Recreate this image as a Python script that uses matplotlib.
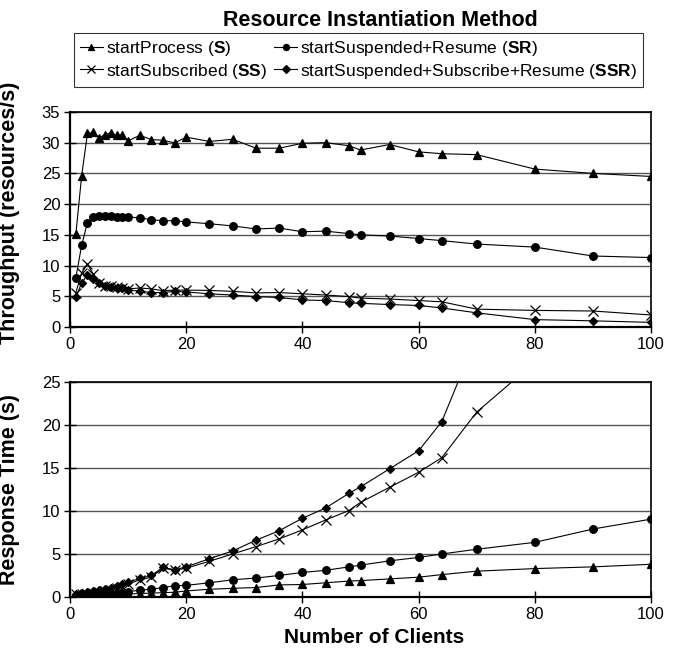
import numpy as np
import matplotlib.pyplot as plt

plt.rcParams['font.family'] = ['Liberation Sans', 'DejaVu Sans']
plt.rcParams['mathtext.fontset'] = 'custom'
plt.rcParams['mathtext.bf'] = 'Liberation Sans:bold'
plt.rcParams['mathtext.rm'] = 'Liberation Sans'

# number of clients
clients = [1, 2, 3, 4, 5, 6, 7, 8, 9, 10, 12, 14, 16, 18, 20, 24, 28, 32,
           36, 40, 44, 48, 50, 55, 60, 64, 70, 80, 90, 100]

# throughput (resources/s)
tp_s = [15.1, 24.6, 31.5, 31.7, 30.8, 31.3, 31.6, 31.2, 31.3, 30.3, 31.2,
        30.5, 30.4, 29.95, 30.9, 30.2, 30.55, 29.1, 29.1, 29.9, 30.0, 29.5,
        28.8, 29.7, 28.5, 28.2, 28.05, 25.7, 25.0, 24.5]
tp_sr = [8.0, 13.3, 17.0, 17.85, 18.05, 18.05, 18.05, 17.95, 17.95, 17.85,
         17.8, 17.45, 17.3, 17.3, 17.1, 16.8, 16.45, 15.95, 16.1, 15.5, 15.6,
         15.2, 15.0, 14.8, 14.4, 14.05, 13.5, 13.0, 11.55, 11.3]
tp_ss = [5.6, 8.8, 10.25, 8.6, 7.1, 6.6, 6.6, 6.5, 6.4, 6.2, 6.35, 6.2, 5.9,
         6.0, 6.0, 5.95, 5.8, 5.55, 5.6, 5.4, 5.2, 4.95, 4.7, 4.55, 4.3, 4.1,
         2.9, 2.7, 2.6, 1.95]
tp_ssr = [4.8, 7.2, 8.45, 7.8, 7.1, 6.6, 6.5, 6.4, 6.3, 6.0, 5.85, 5.6, 5.6,
          5.8, 5.7, 5.4, 5.2, 4.95, 4.8, 4.4, 4.3, 3.95, 3.85, 3.65, 3.5, 3.1,
          2.3, 1.2, 1.0, 0.75]

# response time (s)
rt_s = [0.05, 0.08, 0.1, 0.12, 0.15, 0.18, 0.2, 0.25, 0.3, 0.35, 0.4, 0.45,
        0.5, 0.55, 0.7, 0.9, 1.0, 1.1, 1.4, 1.45, 1.65, 1.85, 1.9, 2.1, 2.3,
        2.6, 3.0, 3.3, 3.5, 3.8]
rt_sr = [0.1, 0.12, 0.15, 0.2, 0.25, 0.3, 0.35, 0.4, 0.5, 0.6, 0.8, 0.9, 1.1,
         1.3, 1.35, 1.65, 2.0, 2.2, 2.5, 2.85, 3.1, 3.5, 3.7, 4.2, 4.6, 5.0,
         5.55, 6.35, 7.9, 9.05]
rt_ss = [0.3, 0.35, 0.4, 0.5, 0.6, 0.7, 0.85, 1.0, 1.2, 1.5, 2.0, 2.3, 3.35,
         3.1, 3.35, 4.15, 5.0, 5.85, 6.75, 7.8, 8.95, 10.05, 11.0, 12.75,
         14.5, 16.2, 21.5, 27.3, np.nan, np.nan]
rt_ssr = [0.4, 0.5, 0.6, 0.7, 0.8, 0.95, 1.1, 1.3, 1.5, 1.7, 2.15, 2.5, 3.45,
          3.15, 3.5, 4.45, 5.35, 6.6, 7.7, 9.15, 10.35, 12.05, 12.8, 14.9,
          17.0, 20.4, 30.3, np.nan, np.nan, np.nan]

labels = [r'startProcess ($\bf{S}$)', r'startSubscribed ($\bf{SS}$)',
          r'startSuspended+Resume ($\bf{SR}$)',
          r'startSuspended+Subscribe+Resume ($\bf{SSR}$)']
markers = ['^', 'x', 'o', 'D']
msizes = [6, 6.5, 5.5, 4.5]

fig = plt.figure(figsize=(6.74, 6.52), dpi=100)
ax1 = fig.add_axes([0.1039, 0.4985, 0.862, 0.3298])
ax2 = fig.add_axes([0.1039, 0.0844, 0.862, 0.3298])


def draw(ax, series, ymax):
    handles = []
    for vals, m, ms, lab in zip(series, markers, msizes, labels):
        h, = ax.plot(clients, vals, color='black', lw=0.8, marker=m,
                     markersize=ms, markeredgewidth=0.9, label=lab)
        handles.append(h)
    ax.set_xlim(0, 100)
    ax.set_ylim(0, ymax)
    ax.set_xticks(range(0, 101, 20))
    ax.set_yticks(range(0, ymax + 1, 5))
    ax.yaxis.grid(True, color='#555555', lw=1)
    ax.set_axisbelow(True)
    ax.tick_params(direction='inout', length=8, width=1, labelsize=12,
                   pad=3, colors='black')
    for sp in ax.spines.values():
        sp.set_linewidth(1.2)
    ax.spines['left'].set_linewidth(1.6)
    ax.spines['bottom'].set_linewidth(1.6)
    return handles


h = draw(ax1, [tp_s, tp_ss, tp_sr, tp_ssr], 35)
draw(ax2, [rt_s, rt_ss, rt_sr, rt_ssr], 25)

ax1.set_ylabel('Throughput (resources/s)', fontsize=15.5, fontweight='bold')
ax1.yaxis.set_label_coords(-0.086, 0.53)
ax2.set_ylabel('Response Time (s)', fontsize=15.5, fontweight='bold')
ax2.yaxis.set_label_coords(-0.086, 0.5)
ax2.set_xlabel('Number of Clients', fontsize=15, fontweight='bold')
ax2.xaxis.set_label_coords(0.523, -0.142)

fig.text(0.564, 0.969, 'Resource Instantiation Method', fontsize=15.5,
         fontweight='bold', ha='center', va='center')
leg = fig.legend(handles=h, ncol=2, loc='upper left',
                 bbox_to_anchor=(74 / 674, 1 - 33 / 652), fontsize=12.5,
                 frameon=True, fancybox=False, edgecolor='black',
                 handlelength=1.3, handletextpad=0.2, columnspacing=0.4,
                 labelspacing=0.2, borderpad=0.35, borderaxespad=0,
                 markerscale=0.8)
leg.get_frame().set_linewidth(0.8)

fig.savefig('out.png', dpi=100)
